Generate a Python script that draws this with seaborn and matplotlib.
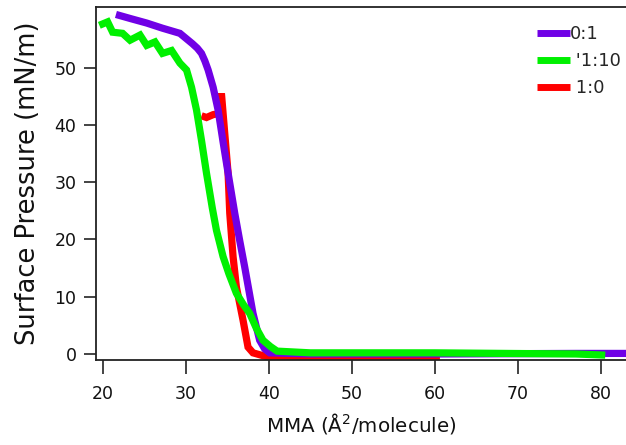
import matplotlib
matplotlib.use("Agg")
import matplotlib.pyplot as plt
import seaborn as sns
import pandas as pd

# ---- data ----
labels = ["0:1", " '1:10", " 1:0"]
colors = ["#7000E6", "#00F000", "#FF0000"]

x_01 = [21.6, 23.3, 25.3, 27.2, 29.3, 30.8, 31.4, 31.9, 32.3, 32.7, 33.3, 33.9,
        34.5, 35.1, 35.9, 36.5, 37.1, 38.1, 38.9, 39.5, 40.1, 45.0, 60.0, 77.0,
        83.5]
y_01 = [59.3, 58.6, 57.8, 56.9, 56.0, 54.2, 53.4, 52.5, 51.2, 49.6, 46.6, 42.6,
        37.0, 31.6, 24.6, 19.8, 15.2, 7.1, 2.4, 0.9, 0.2, 0.0, 0.0, 0.1, 0.1]

x_110 = [19.6, 20.6, 21.2, 22.4, 23.3, 24.5, 25.3, 26.3, 27.2, 28.3, 29.3, 30.1,
         30.7, 31.3, 31.9, 32.5, 33.2, 33.7, 34.5, 35.2, 36.1, 37.0, 37.7, 38.5,
         39.3, 40.2, 41.0, 45.0, 60.0, 77.0, 80.5]
y_110 = [57.4, 58.0, 56.2, 56.0, 54.8, 55.7, 53.9, 54.5, 52.5, 53.0, 50.8, 49.6,
         46.6, 42.6, 37.3, 31.6, 25.5, 21.6, 17.0, 14.0, 10.6, 8.5, 7.1, 4.5,
         2.4, 1.3, 0.5, 0.2, 0.2, 0.0, -0.2]

x_10 = [31.9, 32.5, 33.3, 34.0, 34.3, 34.7, 35.1, 35.3, 35.7, 36.1, 36.9, 37.5,
        38.1, 39.8, 45.0, 60.6]
y_10 = [41.6, 41.3, 41.8, 42.0, 45.5, 38.5, 31.6, 24.6, 17.0, 11.7, 5.9, 1.2,
        0.2, -0.5, -0.6, -0.6]

x_ticks = [20, 30, 40, 50, 60, 70, 80]
y_ticks = [0, 10, 20, 30, 40, 50]

series = [(x_01, y_01), (x_110, y_110), (x_10, y_10)]
zorders = [2, 3, 1]

sns.set_theme(style="ticks")
plt.rcParams['font.family'] = ['DejaVu Sans']

fig = plt.figure(figsize=(6.26, 4.45), dpi=100)
ax = fig.add_axes([96/626, 85/445, 1 - 96/626, 353/445])

for (xs, ys), lab, col, z in zip(series, labels, colors, zorders):
    df = pd.DataFrame({"x": xs, "y": ys})
    sns.lineplot(data=df, x="x", y="y", ax=ax, color=col, lw=5.2, label=lab,
                 sort=False, estimator=None, zorder=z,
                 solid_capstyle='butt', solid_joinstyle='miter')

ax.set_xlim(19.2, 83.0)
ax.set_ylim(-1.05, 60.6)
ax.set_xticks(x_ticks)
ax.set_yticks(y_ticks)
ax.tick_params(axis='x', direction='out', length=10, width=1.1, pad=8,
               labelsize=12.5, colors='#111111')
ax.tick_params(axis='y', direction='out', length=9, width=1.1, pad=5,
               labelsize=12.5, colors='#111111')
for s in ax.spines.values():
    s.set_linewidth(1.3)
    s.set_color('#222222')
ax.spines['right'].set_visible(False)

ax.set_xlabel("MMA (Å$^2$/molecule)", fontsize=14.3, labelpad=6, color='#111111')
ax.set_ylabel("Surface Pressure (mN/m)", fontsize=18.5, labelpad=10, color='#111111')

leg = ax.legend(loc='upper left', bbox_to_anchor=(537/626, 1 - 25/445),
                bbox_transform=fig.transFigure, frameon=False, fontsize=13,
                handlelength=1.8, handletextpad=0.0, labelspacing=0.5,
                borderaxespad=0, borderpad=0)
for h in leg.get_lines():
    h.set_linewidth(5)
    h.set_solid_capstyle('butt')

fig.savefig("out.png", dpi=100)
